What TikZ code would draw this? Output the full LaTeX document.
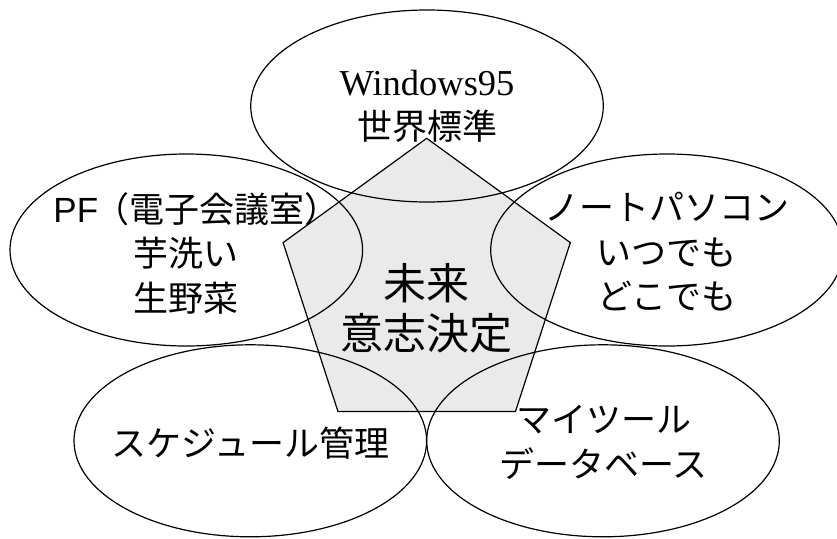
\documentclass[tikz,border=0pt]{standalone}
\usepackage{fontspec}
\setmainfont{Liberation Serif}
\newfontfamily\jpfont{Noto Sans CJK JP}
\newfontfamily\latsans{Liberation Sans}
\usetikzlibrary{shapes.geometric}
\definecolor{pentfill}{HTML}{EAEAEA}
\begin{document}
\begin{tikzpicture}[x=1pt,y=-1pt,
  bubble/.style={draw=black, ellipse, line width=1.2pt, minimum width=352.6pt, minimum height=192pt, inner sep=0pt},
  bubbletext/.style={align=center, inner sep=0pt, font=\jpfont\fontsize{35}{44.5}\selectfont},
  core/.style={draw=black, fill=pentfill, regular polygon, regular polygon sides=5, minimum size=302pt, inner sep=0pt, line width=1.2pt},
  coretext/.style={align=center, font=\jpfont\fontsize{43}{50}\selectfont}]
\useasboundingbox (0,0) rectangle (837,538);
\clip (0,0) rectangle (837,538);
\node[core] (pent) at (426.7,289.3) {};
\node[bubble] (top) at (427,106) {};
\node[bubble] (left) at (186.3,250) {};
\node[bubble] (right) at (667,250) {};
\node[bubble] (botleft) at (250.3,440.8) {};
\node[bubble] (botright) at (603,440.8) {};
\node[bubbletext] (toptext) at (427,106.5) {{\rmfamily\fontsize{36.5}{43}\selectfont Windows95}\\[-1pt]世界標準};
\node[bubbletext] (lefttext) at (186.3,253) {{\latsans PF}\kern-4pt（電子会議室）\kern-20pt\\芋洗い\\生野菜};
\node[bubbletext] (righttext) at (666.7,252) {ノートパソコン\\いつでも\\どこでも};
\node[bubbletext] (botlefttext) at (250.3,443) {スケジュール管理};
\node[bubbletext] (botrighttext) at (603.5,442.5) {マイツール\\データベース};
\node[coretext] (ctext) at (426.7,308) {未来\\意志決定};
\end{tikzpicture}
\end{document}
